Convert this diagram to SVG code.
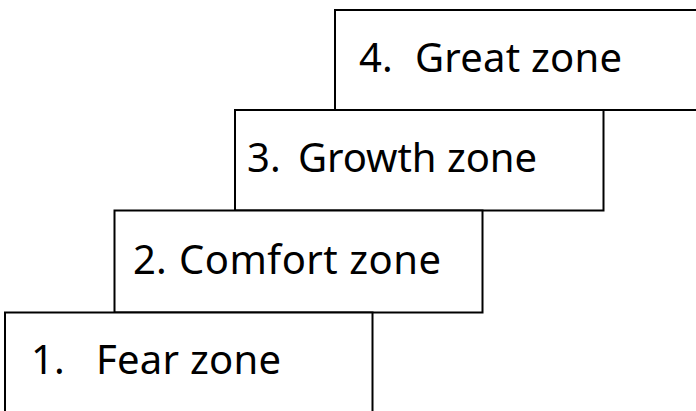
<svg xmlns="http://www.w3.org/2000/svg" width="696" height="411" viewBox="0 0 696 411">
  <style>
    .box { fill: #ffffff; stroke: #000000; stroke-width: 2; }
    .lbl { font-family: "Noto Sans", "Liberation Sans", Arial, sans-serif; font-size: 40px; fill: #000000; }
  </style>
  <rect x="0" y="0" width="696" height="411" fill="#ffffff"/>
  <g id="node4">
    <rect class="box" x="335" y="10" width="368" height="100"/>
    <text class="lbl" y="72"><tspan x="359">4.</tspan><tspan x="415" textLength="207">Great zone</tspan></text>
  </g>
  <g id="node3">
    <rect class="box" x="235" y="110" width="368.5" height="100.5"/>
    <text class="lbl" y="172"><tspan x="247">3.</tspan><tspan x="298" textLength="239">Growth zone</tspan></text>
  </g>
  <g id="node2">
    <rect class="box" x="114.5" y="210.5" width="368" height="102"/>
    <text class="lbl" y="274"><tspan x="133">2.</tspan><tspan x="179" textLength="262">Comfort zone</tspan></text>
  </g>
  <g id="node1">
    <rect class="box" x="5" y="312.5" width="367.5" height="102"/>
    <text class="lbl" y="374"><tspan x="31">1.</tspan><tspan x="96" textLength="185">Fear zone</tspan></text>
  </g>
  <g id="connectors"></g>
</svg>
